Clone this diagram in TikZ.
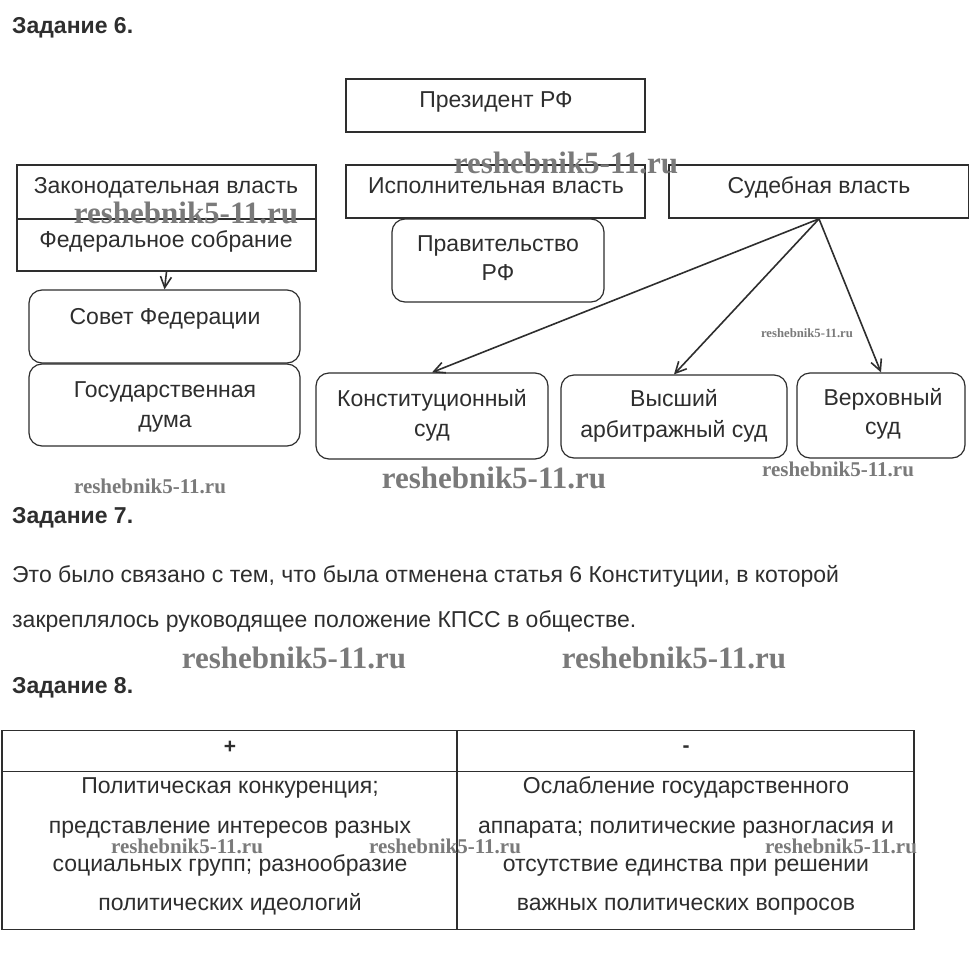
\documentclass[tikz,border=0pt]{standalone}
\usepackage{fontspec}
\setmainfont{Liberation Sans}
\newfontfamily\wmfont{Liberation Serif}[BoldFont={Liberation Serif Bold}]
\usetikzlibrary{arrows.meta}
\definecolor{ink}{HTML}{2E2E2E}
\definecolor{wm}{HTML}{7A7A7A}
\tikzset{
  sqbox/.style={draw=ink, line width=1.7pt, minimum width=#1, inner sep=0pt},
  rbox/.style={draw=ink, line width=1.2pt, rounded corners=13pt, inner sep=0pt},
  lbl/.style={text=ink, font=\fontsize{23}{26}\selectfont, inner sep=0pt, anchor=base},
  para/.style={text=ink, font=\fontsize{23}{26}\selectfont, inner sep=0pt, anchor=base west},
  head/.style={text=ink, font=\fontsize{23}{26}\selectfont\bfseries, inner sep=0pt, anchor=base west},
  arr/.style={draw=ink, line width=1.6pt, -{Straight Barb[length=11pt,width=11pt,line width=1.6pt]}},
  wmbig/.style={text=wm, font=\wmfont\bfseries\fontsize{31}{33}\selectfont, inner sep=0pt},
  wmmid/.style={text=wm, font=\wmfont\bfseries\fontsize{21}{23}\selectfont, inner sep=0pt},
  wmsmall/.style={text=wm, font=\wmfont\bfseries\fontsize{12.7}{14}\selectfont, inner sep=0pt},
  cell/.style={draw=ink, line width=1.2pt, inner sep=0pt},
}
\begin{document}
\begin{tikzpicture}[x=1pt,y=-1pt]
\useasboundingbox[fill=white] (0,0) rectangle (969,975);
% Task 6
\node[head] (h6) at (12,33) {Задание 6.};
\node[sqbox=299pt, minimum height=53pt] (pres) at (495.5,105.5) {};
\node[lbl] (prest) at (496,107) {Президент РФ};
\node[sqbox=299pt, minimum height=54pt] (zak) at (166.5,192) {};
\node[lbl] (zakt) at (166,193) {Законодательная власть};
\node[sqbox=299pt, minimum height=52pt] (fed) at (166.5,245) {};
\node[lbl] (fedt) at (166,247) {Федеральное собрание};
\node[sqbox=299pt, minimum height=53pt] (isp) at (495.5,191.5) {};
\node[lbl] (ispt) at (496,193) {Исполнительная власть};
\node[sqbox=300pt, minimum height=53pt] (sud) at (819,191.5) {};
\node[lbl] (sudt) at (819,193) {Судебная власть};
\node[rbox, minimum width=212pt, minimum height=83pt] (prav) at (498,260.5) {};
\node[lbl] (pravt1) at (498,251) {Правительство};
\node[lbl] (pravt2) at (498,280) {РФ};
\node[rbox, minimum width=271pt, minimum height=73pt] (sov) at (164.5,326.5) {};
\node[lbl] (sovt) at (165,324) {Совет Федерации};
\node[rbox, minimum width=271pt, minimum height=82pt] (gd) at (164.5,405) {};
\node[lbl] (gdt1) at (165,397) {Государственная};
\node[lbl] (gdt2) at (165,427) {дума};
\node[rbox, minimum width=232pt, minimum height=86pt] (ks) at (432,416) {};
\node[lbl] (kst1) at (432,406) {Конституционный};
\node[lbl] (kst2) at (432,436) {суд};
\node[rbox, minimum width=226pt, minimum height=83pt] (vas) at (674,416.5) {};
\node[lbl] (vast1) at (674,406) {Высший};
\node[lbl] (vast2) at (674,437) {арбитражный суд};
\node[rbox, minimum width=168pt, minimum height=85pt] (vs) at (881,415.5) {};
\node[lbl] (vst1) at (883,405) {Верховный};
\node[lbl] (vst2) at (883,434) {суд};
\draw[arr] (fed.south) -- (sov.north);
\draw[arr] (sud.south) -- (ks.north);
\draw[arr] (sud.south) -- (vas.north);
\draw[arr] (sud.south) -- (vs.north);
% Task 7
\node[head] (h7) at (12,523) {Задание 7.};
\node[para] (p1) at (12,582) {Это было связано с тем, что была отменена статья 6 Конституции, в которой};
\node[para] (p2) at (12,627) {закреплялось руководящее положение КПСС в обществе.};
\node[head] (h8) at (12,693) {Задание 8.};
% Task 8 table
\node[cell, minimum width=455pt, minimum height=41pt] (c11) at (229.5,751) {};
\node[cell, minimum width=457pt, minimum height=41pt] (c12) at (685.5,751) {};
\node[cell, minimum width=455pt, minimum height=158pt] (c21) at (229.5,850.5) {};
\node[cell, minimum width=457pt, minimum height=158pt] (c22) at (685.5,850.5) {};
\node[lbl, font=\fontsize{21}{24}\selectfont\bfseries] (plus) at (230,753) {+};
\node[lbl, font=\fontsize{21}{24}\selectfont\bfseries] (minus) at (686,752) {-};
\node[lbl] (l1) at (230,793) {Политическая конкуренция;};
\node[lbl] (l2) at (230,833) {представление интересов разных};
\node[lbl] (l3) at (230,871) {социальных групп; разнообразие};
\node[lbl] (l4) at (230,910) {политических идеологий};
\node[lbl] (r1) at (686,793) {Ослабление государственного};
\node[lbl] (r2) at (686,833) {аппарата; политические разногласия и};
\node[lbl] (r3) at (686,871) {отсутствие единства при решении};
\node[lbl] (r4) at (686,910) {важных политических вопросов};
% watermarks
\node[wmbig] (w1) at (566,163) {reshebnik5-11.ru};
\node[wmbig] (w2) at (186,213) {reshebnik5-11.ru};
\node[wmsmall] (w3) at (807,333) {reshebnik5-11.ru};
\node[wmbig] (w4) at (494,478) {reshebnik5-11.ru};
\node[wmmid] (w5) at (838,469) {reshebnik5-11.ru};
\node[wmmid] (w6) at (150,486) {reshebnik5-11.ru};
\node[wmbig] (w7) at (294,658) {reshebnik5-11.ru};
\node[wmbig] (w8) at (674,658) {reshebnik5-11.ru};
\node[wmmid] (w9) at (187,846) {reshebnik5-11.ru};
\node[wmmid] (w10) at (445,846) {reshebnik5-11.ru};
\node[wmmid] (w11) at (841,846) {reshebnik5-11.ru};
\end{tikzpicture}
\end{document}
